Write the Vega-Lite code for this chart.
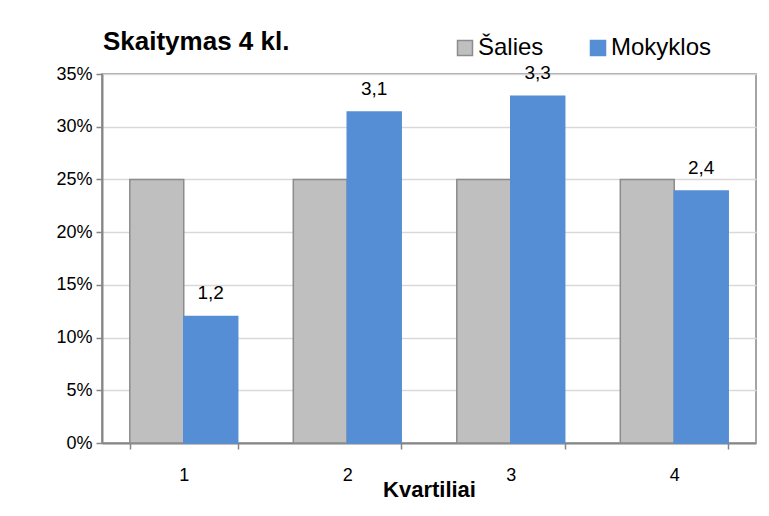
{
  "$schema": "https://vega.github.io/schema/vega-lite/v6.json",
  "width": 654,
  "height": 369,
  "autosize": "none",
  "padding": {"left": 102, "top": 74, "right": 13, "bottom": 73},
  "background": "white",
  "title": {
    "text": "Skaitymas 4 kl.",
    "anchor": "start",
    "orient": "top",
    "font": "Liberation Sans",
    "fontSize": 26,
    "fontWeight": "bold",
    "color": "#000000",
    "dx": 47,
    "dy": 54,
    "offset": 14,
    "baseline": "alphabetic"
  },
  "data": {
    "values": [
      {"kvartilis": "1", "serija": "Šalies", "reiksme": 0.25, "zyma": ""},
      {"kvartilis": "1", "serija": "Mokyklos", "reiksme": 0.12, "zyma": "1,2"},
      {"kvartilis": "2", "serija": "Šalies", "reiksme": 0.25, "zyma": ""},
      {"kvartilis": "2", "serija": "Mokyklos", "reiksme": 0.314, "zyma": "3,1"},
      {"kvartilis": "3", "serija": "Šalies", "reiksme": 0.25, "zyma": ""},
      {"kvartilis": "3", "serija": "Mokyklos", "reiksme": 0.329, "zyma": "3,3"},
      {"kvartilis": "4", "serija": "Šalies", "reiksme": 0.25, "zyma": ""},
      {"kvartilis": "4", "serija": "Mokyklos", "reiksme": 0.239, "zyma": "2,4"}
    ]
  },
  "encoding": {
    "x": {
      "field": "kvartilis",
      "type": "nominal",
      "scale": {"paddingInner": 0.34, "paddingOuter": 0.17},
      "axis": {
        "title": "Kvartiliai",
        "labelAngle": 0,
        "tickBand": "extent",
        "tickSize": 6,
        "labelPadding": 17,
        "titlePadding": -5,
        "titleFontWeight": "bold",
        "titleFontSize": 22,
        "grid": false
      }
    },
    "xOffset": {"field": "serija", "type": "nominal", "scale": {"domain": ["Šalies", "Mokyklos"], "paddingInner": 0, "paddingOuter": 0}},
    "y": {
      "field": "reiksme",
      "type": "quantitative",
      "scale": {"domain": [0, 0.35], "nice": false},
      "axis": {
        "title": null,
        "values": [0, 0.05, 0.1, 0.15, 0.2, 0.25, 0.3, 0.35],
        "format": ".0%",
        "tickSize": 6,
        "labelPadding": 4,
        "grid": true
      }
    }
  },
  "layer": [
    {
      "mark": {"type": "bar", "strokeWidth": 1.5},
      "encoding": {
        "fill": {
          "field": "serija",
          "type": "nominal",
          "scale": {"domain": ["Šalies", "Mokyklos"], "range": ["#BFBFBF", "#558ED5"]},
          "legend": {"title": null}
        },
        "stroke": {
          "field": "serija",
          "type": "nominal",
          "scale": {"domain": ["Šalies", "Mokyklos"], "range": ["#8C8C8C", "#558ED5"]},
          "legend": {"title": null}
        }
      }
    },
    {
      "transform": [{"filter": "datum.serija === 'Mokyklos'"}],
      "mark": {"type": "text", "baseline": "alphabetic", "dy": -17, "font": "Liberation Sans", "fontSize": 19, "color": "#000000"},
      "encoding": {"text": {"field": "zyma"}}
    }
  ],
  "config": {
    "view": {"stroke": "#868686", "strokeWidth": 1.5},
    "axis": {
      "labelFont": "Liberation Sans",
      "titleFont": "Liberation Sans",
      "labelFontSize": 18,
      "labelColor": "#000000",
      "titleColor": "#000000",
      "domainColor": "#868686",
      "domainWidth": 2,
      "tickColor": "#868686",
      "tickWidth": 1.5,
      "gridColor": "#D9D9D9",
      "gridWidth": 1.5
    },
    "legend": {
      "orient": "none",
      "legendX": 351,
      "legendY": -38,
      "direction": "horizontal",
      "symbolType": "square",
      "symbolSize": 225,
      "symbolStrokeWidth": 1.5,
      "labelFont": "Liberation Sans",
      "labelFontSize": 24,
      "labelColor": "#000000",
      "labelOffset": 1,
      "columnPadding": 42
    }
  }
}
